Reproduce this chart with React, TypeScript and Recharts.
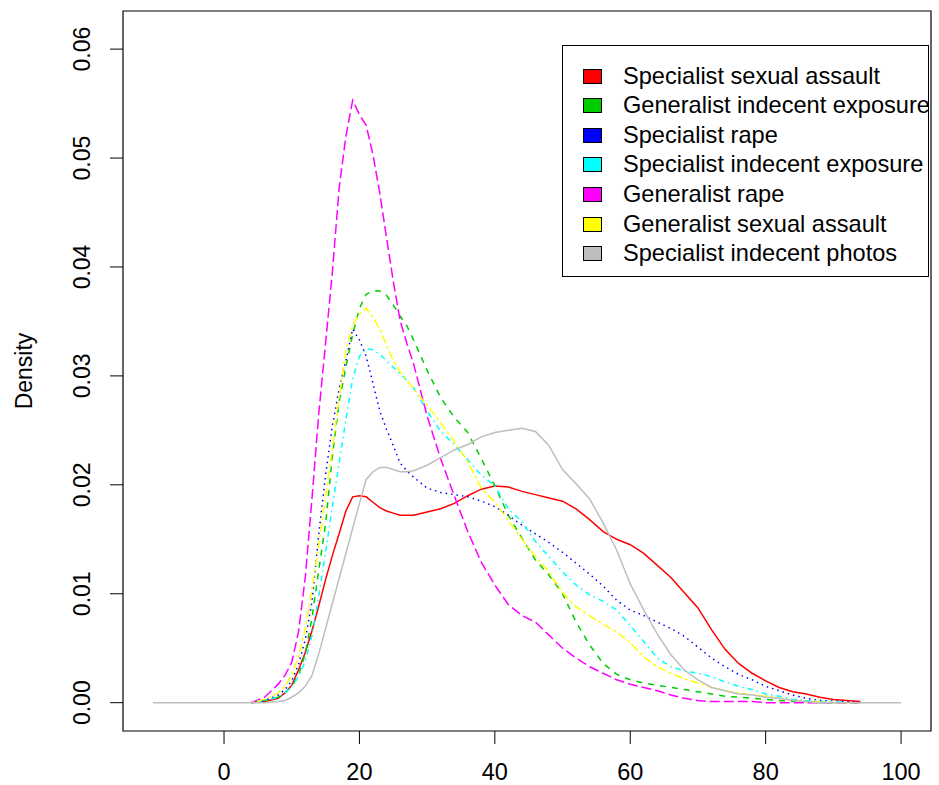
import React from 'react';
import { LineChart, Line, XAxis, YAxis, Legend, Label, ReferenceArea } from 'recharts';

// age grid (x values of the density estimates)
const ages = [
  -10.5, 4, 6, 8, 9, 10, 11, 12, 13, 14, 15, 16, 17, 18, 19, 20, 21, 22, 23, 24, 25, 26, 27, 28,
  30, 32, 34, 36, 38, 40, 42, 44, 46, 48, 50, 52, 54, 56, 58, 60, 62, 64, 66, 68, 70, 72, 74, 76,
  78, 80, 82, 84, 86, 88, 90, 92, 94, 100,
];

const specSexAssault = [
  null, 0, 0.0001, 0.0004, 0.0009, 0.0016, 0.003, 0.0046, 0.0066, 0.0089, 0.0113, 0.0135, 0.0155,
  0.0176, 0.0189, 0.019, 0.0189, 0.0184, 0.0179, 0.0176, 0.0174, 0.0172, 0.0172, 0.0172,
  0.0175, 0.0178, 0.0183, 0.019, 0.0196, 0.0199, 0.0198, 0.0194, 0.0191, 0.0188, 0.0185, 0.0178,
  0.0168, 0.0157, 0.015, 0.0145, 0.0137, 0.0126, 0.0115, 0.0101, 0.0087, 0.0067, 0.0049, 0.0036,
  0.0027, 0.002, 0.0014, 0.001, 0.0008, 0.0005, 0.0003, 0.0002, 0.0001, null,
];
const genIndExposure = [
  null, 0, 0.0002, 0.0005, 0.0009, 0.0015, 0.0025, 0.0045, 0.0078, 0.0122, 0.0164, 0.0226, 0.0276,
  0.0308, 0.0338, 0.0362, 0.0375, 0.0378, 0.0378, 0.0374, 0.0365, 0.0355, 0.0346, 0.0333,
  0.0305, 0.028, 0.0262, 0.0248, 0.0224, 0.0199, 0.0172, 0.0151, 0.0131, 0.0117, 0.01, 0.0074,
  0.0053, 0.0036, 0.0026, 0.0021, 0.0018, 0.0016, 0.0014, 0.0012, 0.001, 0.0008, 0.0006, 0.0005,
  0.0004, 0.0003, 0.0002, 0.0001, 0.0001, 0, 0, 0, 0, null,
];
const specRape = [
  null, 0, 0.0002, 0.0007, 0.0012, 0.002, 0.0035, 0.0058, 0.0093, 0.0155, 0.0209, 0.0254, 0.0288,
  0.0314, 0.0343, 0.0333, 0.0318, 0.0293, 0.0268, 0.0251, 0.0236, 0.022, 0.0213, 0.0207,
  0.0197, 0.0193, 0.0191, 0.0189, 0.0185, 0.018, 0.0172, 0.0163, 0.0155, 0.0147, 0.0138, 0.0128,
  0.0118, 0.0107, 0.0094, 0.0085, 0.008, 0.0074, 0.0068, 0.0061, 0.0051, 0.0041, 0.0033, 0.0026,
  0.0021, 0.0015, 0.0011, 0.0007, 0.0004, 0.0002, 0.00015, 0.0001, 0, null,
];
const specIndExposure = [
  null, 0, 0.0002, 0.0005, 0.0009, 0.0015, 0.0024, 0.0038, 0.0062, 0.0098, 0.0138, 0.018, 0.022,
  0.026, 0.0297, 0.0318, 0.0325, 0.0324, 0.032, 0.0314, 0.0308, 0.0302, 0.0296, 0.0289,
  0.0268, 0.0249, 0.0237, 0.0223, 0.0209, 0.0199, 0.0178, 0.0166, 0.0148, 0.0134, 0.012, 0.0108,
  0.0099, 0.0093, 0.0085, 0.0071, 0.0056, 0.0041, 0.0033, 0.0029, 0.0027, 0.0024, 0.0019, 0.0015,
  0.0012, 0.0008, 0.0006, 0.0003, 0.0002, 0.0001, 0.0001, 0, 0, null,
];
const genRape = [
  null, 0, 0.0005, 0.0017, 0.0025, 0.0037, 0.0065, 0.0115, 0.0188, 0.0266, 0.033, 0.0395, 0.0472,
  0.052, 0.0553, 0.054, 0.053, 0.0503, 0.0468, 0.0427, 0.0387, 0.0351, 0.033, 0.0311,
  0.0263, 0.0224, 0.019, 0.0157, 0.0129, 0.0108, 0.009, 0.008, 0.0074, 0.0062, 0.005, 0.0041,
  0.0033, 0.0027, 0.0021, 0.0017, 0.0014, 0.0011, 0.0007, 0.0004, 0.0002, 0.0001, 0.0001, 0.0001,
  0.0001, 0, 0, 0, 0, 0, 0, 0, 0, null,
];
const genSexAssault = [
  null, 0, 0.0003, 0.0009, 0.0015, 0.0025, 0.0042, 0.0068, 0.0105, 0.0145, 0.019, 0.0233, 0.028,
  0.0323, 0.0347, 0.0357, 0.0362, 0.0354, 0.0343, 0.0328, 0.0314, 0.0304, 0.0296, 0.0288,
  0.0273, 0.0257, 0.024, 0.0221, 0.0197, 0.0184, 0.0167, 0.015, 0.0134, 0.012, 0.0101, 0.0088,
  0.008, 0.0072, 0.0065, 0.0055, 0.0042, 0.0033, 0.0027, 0.0022, 0.0018, 0.0014, 0.0011, 0.0009,
  0.0007, 0.0006, 0.0004, 0.0002, 0.0001, 0.0001, 0, 0, 0, null,
];
const specIndPhotos = [
  0, 0, 0, 0.0001, 0.0002, 0.0005, 0.0009, 0.0015, 0.0025, 0.0045, 0.0068, 0.0091, 0.0114,
  0.0137, 0.016, 0.0183, 0.0205, 0.0212, 0.0216, 0.0216, 0.0214, 0.0212, 0.0212, 0.0213,
  0.0218, 0.0225, 0.0232, 0.0237, 0.0244, 0.0248, 0.025, 0.0252, 0.0249, 0.0236, 0.0214, 0.0201,
  0.0187, 0.0165, 0.014, 0.0109, 0.0085, 0.0063, 0.0044, 0.003, 0.0021, 0.0014, 0.0011, 0.0008,
  0.0007, 0.0005, 0.0004, 0.0002, 0.0001, 0, 0, 0, 0, 0,
];

const seriesKeys = ['ssa', 'gie', 'sr', 'sie', 'gr', 'gsa', 'sip'];
const seriesNames = [
  'Specialist sexual assault',
  'Generalist indecent exposure',
  'Specialist rape',
  'Specialist indecent exposure',
  'Generalist rape',
  'Generalist sexual assault',
  'Specialist indecent photos',
];
const seriesValues = [
  specSexAssault, genIndExposure, specRape, specIndExposure, genRape, genSexAssault, specIndPhotos,
];
const seriesColors = ['#FF0000', '#00CD00', '#0000FF', '#00FFFF', '#FF00FF', '#FFFF00', '#BEBEBE'];
const seriesDashes = [undefined, '6 6', '1.5 4', '1.5 4 5.5 4', '10 4', '3 3 8.5 3', undefined];

const xTicks = [0, 20, 40, 60, 80, 100];
const yTicks = [0, 0.01, 0.02, 0.03, 0.04, 0.05, 0.06];
const xDomain = [-14.92, 104.42];
const yDomain = [-0.0026, 0.0635];

const rows = ages.map((age, i) => {
  const row: Record<string, number | null> = { age };
  seriesKeys.forEach((k, s) => {
    row[k] = seriesValues[s][i];
  });
  return row;
});

const FONT = '"Liberation Sans", Arial, sans-serif';

const XTick = (props: any) => {
  const { x, y, payload } = props;
  return (
    <text x={x} y={y + 36} textAnchor="middle" fontFamily={FONT} fontSize={23.5} fill="#000">
      {payload.value}
    </text>
  );
};

const YTick = (props: any) => {
  const { y, payload } = props;
  const cx = 82;
  return (
    <text
      x={cx}
      y={y}
      transform={`rotate(-90 ${cx} ${y})`}
      textAnchor="middle"
      dominantBaseline="central"
      fontFamily={FONT}
      fontSize={23}
      fill="#000"
    >
      {payload.value.toFixed(2)}
    </text>
  );
};

const DensityLabel = (props: any) => {
  const { viewBox } = props;
  const cx = viewBox.x + 24;
  const cy = viewBox.y + viewBox.height / 2;
  return (
    <text
      x={cx}
      y={cy}
      transform={`rotate(-90 ${cx} ${cy})`}
      textAnchor="middle"
      dominantBaseline="central"
      fontFamily={FONT}
      fontSize={23}
      fill="#000"
    >
      Density
    </text>
  );
};

// legend in the same order as the series were drawn (not sorted)
const LegendBox = () => (
  <div
    style={{
      position: 'relative',
      width: 367,
      height: 232,
      border: '1px solid #000',
      boxSizing: 'border-box',
      background: '#fff',
      fontFamily: FONT,
      fontSize: 23.6,
      color: '#000',
    }}
  >
    {seriesNames.map((name, i) => (
      <div
        key={name}
        style={{
          position: 'absolute',
          left: 20,
          top: 15 + i * 29.6,
          height: 30,
          display: 'flex',
          alignItems: 'center',
          whiteSpace: 'nowrap',
        }}
      >
        <span
          style={{
            display: 'inline-block',
            width: 19,
            height: 15,
            background: seriesColors[i],
            border: '1px solid #000',
            boxSizing: 'border-box',
            marginRight: 21,
          }}
        />
        <span>{name}</span>
      </div>
    ))}
  </div>
);

export default function App() {
  return (
    <div style={{ position: 'absolute', left: 0, top: 0, width: 939, height: 785, background: '#fff' }}>
      <LineChart width={939} height={785} data={rows} margin={{ top: 11, right: 8, bottom: 0, left: 0 }}>
        <XAxis
          dataKey="age"
          type="number"
          domain={xDomain}
          allowDataOverflow
          ticks={xTicks}
          height={54}
          tickSize={13}
          tickMargin={0}
          tick={<XTick />}
          axisLine={false}
          tickLine={{ stroke: '#000' }}
        />
        <YAxis
          type="number"
          domain={yDomain}
          allowDataOverflow
          ticks={yTicks}
          width={123}
          tickSize={13}
          tick={<YTick />}
          axisLine={false}
          tickLine={{ stroke: '#000' }}
        >
          <Label content={<DensityLabel />} />
        </YAxis>
        {/* plot frame */}
        <ReferenceArea
          x1={xDomain[0]}
          x2={xDomain[1]}
          y1={yDomain[0]}
          y2={yDomain[1]}
          fill="none"
          fillOpacity={0}
          stroke="#000"
          strokeWidth={1.2}
          strokeOpacity={1}
          ifOverflow="visible"
        />
        <Legend
          layout="vertical"
          align="center"
          verticalAlign="middle"
          wrapperStyle={{ left: 562, top: 45, width: 367, height: 232 }}
          content={<LegendBox />}
        />
        {seriesKeys.map((k, s) => (
          <Line
            key={k}
            dataKey={k}
            name={seriesNames[s]}
            type="linear"
            stroke={seriesColors[s]}
            strokeWidth={1.5}
            strokeDasharray={seriesDashes[s]}
            dot={false}
            activeDot={false}
            isAnimationActive={false}
          />
        ))}
      </LineChart>
    </div>
  );
}
